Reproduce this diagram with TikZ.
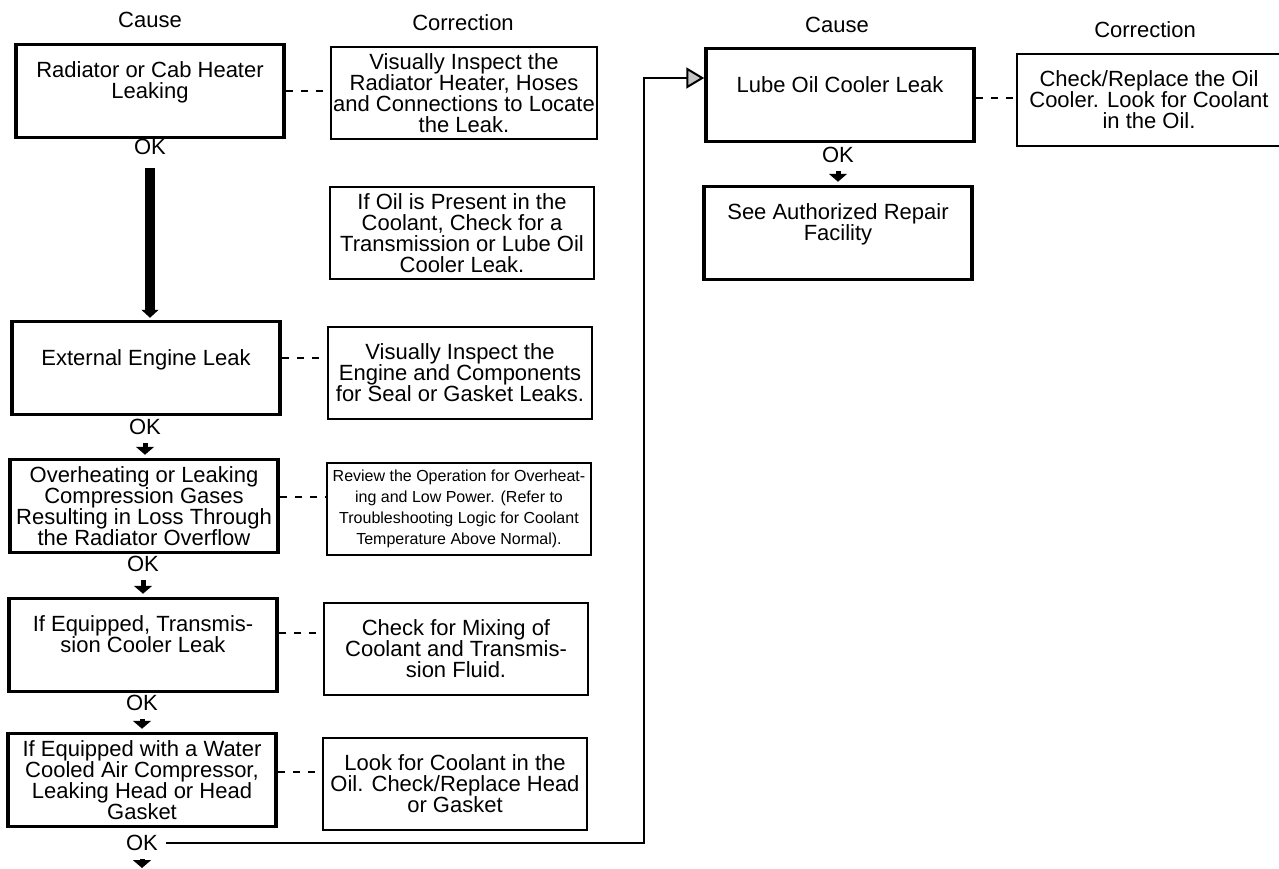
\documentclass[tikz,border=0pt]{standalone}
\usepackage{fontspec}
\setmainfont{Liberation Sans}
\usetikzlibrary{arrows.meta,positioning}

\tikzset{
  causebox/.style={draw, line width=1.75pt, minimum width=134pt, minimum height=46.5pt, align=center, inner sep=1pt},
  fixbox/.style={draw, line width=1pt, minimum width=132pt, minimum height=46pt, align=center, inner sep=1pt},
  head/.style={inner sep=0pt},
  oklabel/.style={inner sep=0pt},
  dashlink/.style={line width=0.75pt, dash pattern=on 3.5pt off 4pt},
  okarrow/.style={line width=2.5pt, -{Triangle[length=4pt,width=9pt]}, shorten <=4pt, shorten >=1.5pt},
}

\begin{document}
\begin{tikzpicture}[x=0.5pt, y=-0.5pt, font=\fontsize{11}{10.5}\selectfont]
\useasboundingbox (0,0) rectangle (1279,868);

% Column heads
\node[head] (causeL) at (150,20) {Cause};
\node[head] (corrL) at (463,23) {Correction};
\node[head] (causeR) at (837,25) {Cause};
\node[head] (corrR) at (1145,30) {Correction};

% Causes
\node[causebox] (radiator) at (150,91) {Radiator or Cab Heater\\Leaking\\\mbox{}};
\node[causebox] (external) at (146,368) {External Engine Leak\\\mbox{}};
\node[causebox] (overheat) at (144,506) {Overheating or Leaking\\Compression Gases\\Resulting in Loss Through\\the Radiator Overflow};
\node[causebox] (transm) at (143,645) {If Equipped, Transmis-\\sion Cooler Leak\\\mbox{}};
\node[causebox] (aircomp) at (142,780) {If Equipped with a Water\\Cooled Air Compressor,\\Leaking Head or Head\\Gasket};
\node[causebox] (lube) at (840,95) {Lube Oil Cooler Leak\\\mbox{}};
\node[causebox] (repair) at (838,233) {See Authorized Repair\\Facility\\\mbox{}};

% Corrections
\node[fixbox] (fixrad) at (464,93) {Visually Inspect the\\Radiator Heater, Hoses\\and Connections to Locate\\the Leak.};
\node[fixbox] (fixoil) at (462,233) {If Oil is Present in the\\Coolant, Check for a\\Transmission or Lube Oil\\Cooler Leak.};
\node[fixbox] (fixext) at (460,373) {Visually Inspect the\\Engine and Components\\for Seal or Gasket Leaks.};
\node[fixbox, font=\fontsize{8}{10.5}\selectfont] (fixheat) at (459,509) {Review the Operation for Overheat-\\ing and Low Power. (Refer to\\Troubleshooting Logic for Coolant\\Temperature Above Normal).};
\node[fixbox] (fixtrans) at (456,649) {Check for Mixing of\\Coolant and Transmis-\\sion Fluid.};
\node[fixbox] (fixcomp) at (455,784) {Look for Coolant in the\\Oil. Check/Replace Head\\or Gasket};
\node[fixbox] (fixlube) at (1149,100) {Check/Replace the Oil\\Cooler. Look for Coolant\\in the Oil.};

% OK labels
\node[oklabel] (ok1) at (150,147) {OK};
\node[oklabel] (ok2) at (145,427) {OK};
\node[oklabel] (ok3) at (143,564) {OK};
\node[oklabel] (ok4) at (142,703) {OK};
\node[oklabel] (ok5) at (142,843) {OK};
\node[oklabel] (okR) at (838,155) {OK};
\coordinate (tail) at (142,868);
\coordinate (rise) at (644,78);

% Flow arrows
\draw[line width=5pt, -{Triangle[length=4pt,width=8.5pt]}, shorten <=6.5pt, shorten >=1pt] (ok1.south) -- (ok1.south |- external.north);
\draw[okarrow] (ok2.south) -- (ok2.south |- overheat.north);
\draw[okarrow] (ok3.south) -- (ok3.south |- transm.north);
\draw[okarrow] (ok4.south) -- (ok4.south |- aircomp.north);
\draw[okarrow, shorten >=0pt] (ok5.south) -- (tail);
\draw[okarrow] (okR.south) -- (okR.south |- repair.north);
\draw[line width=1pt, -{Triangle[length=9pt,width=10.5pt,fill=gray!45]}, shorten <=4pt] (ok5.east) -| (rise) -- (rise -| lube.west);

% Dashed links
\draw[dashlink] (radiator.east) -- (radiator.east -| fixrad.west);
\draw[dashlink] ([yshift=5pt]external.east) -- ([yshift=5pt]external.east -| fixext.west);
\draw[dashlink] ([yshift=4.5pt]overheat.east) -- ([yshift=4.5pt]overheat.east -| fixheat.west);
\draw[dashlink] ([yshift=6pt]transm.east) -- ([yshift=6pt]transm.east -| fixtrans.west);
\draw[dashlink] ([yshift=4pt]aircomp.east) -- ([yshift=4pt]aircomp.east -| fixcomp.west);
\draw[dashlink] ([yshift=-1.5pt]lube.east) -- ([yshift=-1.5pt]lube.east -| fixlube.west);
\end{tikzpicture}
\end{document}
